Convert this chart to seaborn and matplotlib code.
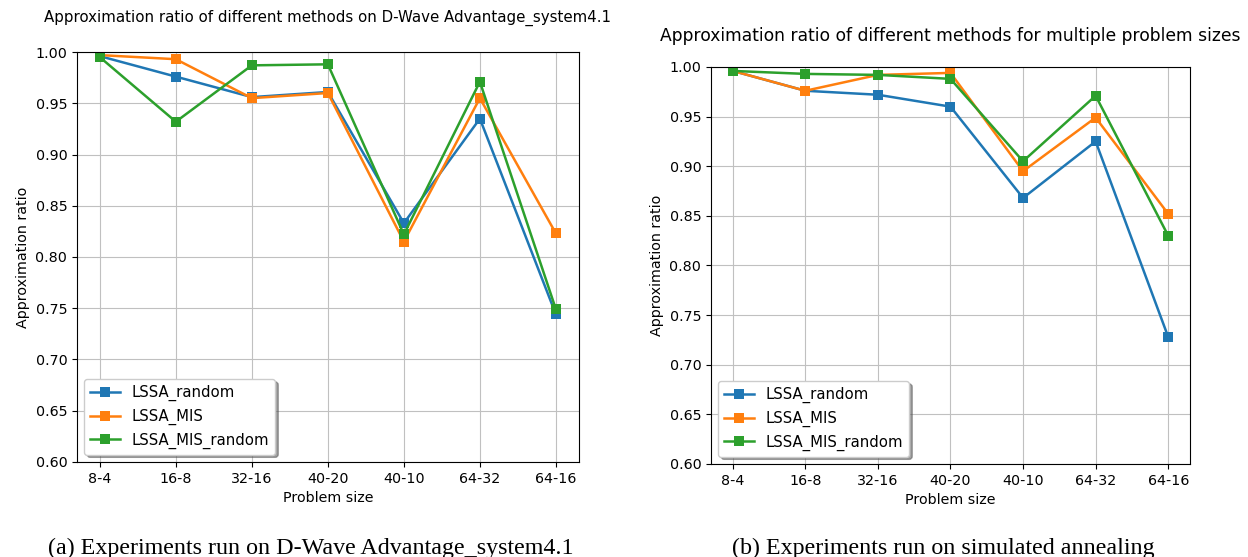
import pandas as pd
import seaborn as sns
from matplotlib import pyplot as plt

sizes = ['8-4', '16-8', '32-16', '40-20', '40-10', '64-32', '64-16']
methods = ['LSSA_random', 'LSSA_MIS', 'LSSA_MIS_random']

# D-Wave Advantage_system4.1
dwave_random = [0.996, 0.976, 0.956, 0.961, 0.833, 0.935, 0.744]
dwave_mis = [0.997, 0.993, 0.955, 0.960, 0.815, 0.955, 0.823]
dwave_mis_random = [0.995, 0.932, 0.987, 0.988, 0.822, 0.971, 0.749]

# simulated annealing
sa_random = [0.996, 0.976, 0.972, 0.960, 0.868, 0.925, 0.728]
sa_mis = [0.996, 0.976, 0.992, 0.994, 0.895, 0.949, 0.852]
sa_mis_random = [0.996, 0.993, 0.992, 0.988, 0.905, 0.971, 0.830]

palette = {'LSSA_random': '#1f77b4', 'LSSA_MIS': '#ff7f0e', 'LSSA_MIS_random': '#2ca02c'}


def make_df(series):
    rows = []
    for m, vals in zip(methods, series):
        for s, v in zip(sizes, vals):
            rows.append({'Problem size': s, 'ratio': v, 'method': m})
    return pd.DataFrame(rows)


def draw(ax, df, title, title_size, title_pad):
    sns.lineplot(data=df, x='Problem size', y='ratio', hue='method', hue_order=methods,
                 palette=palette, marker='s', markersize=7.5, markeredgewidth=0,
                 linewidth=1.8, ax=ax, sort=False)
    ax.set_ylim(0.6, 1.0)
    ax.set_yticks([0.6, 0.65, 0.7, 0.75, 0.8, 0.85, 0.9, 0.95, 1.0])
    ax.set_yticklabels(['%.2f' % t for t in ax.get_yticks()])
    ax.set_xlabel('Problem size', fontsize=10.3)
    ax.set_ylabel('Approximation ratio', fontsize=10.3)
    ax.tick_params(labelsize=10.3)
    ax.grid(True, color='#c0c0c0', linewidth=0.8)
    ax.set_title(title, fontsize=title_size, pad=title_pad)
    ax.legend(loc='lower left', shadow=True, fontsize=10.7, framealpha=1, edgecolor='#cccccc')
    for sp in ax.spines.values():
        sp.set_color('black')


fig = plt.figure(figsize=(12.48, 5.57), dpi=100)
ax1 = fig.add_axes([0.0617, 0.1706, 0.402, 0.736])
ax2 = fig.add_axes([0.5697, 0.167, 0.3838, 0.7128])

draw(ax1, make_df([dwave_random, dwave_mis, dwave_mis_random]),
     'Approximation ratio of different methods on D-Wave Advantage_system4.1', 10.8, 22)
draw(ax2, make_df([sa_random, sa_mis, sa_mis_random]),
     'Approximation ratio of different methods for multiple problem sizes', 12.3, 19)

fig.text(0.249, 0.006, '(a) Experiments run on D-Wave Advantage_system4.1',
         ha='center', fontsize=17.3, family='Liberation Serif')
fig.text(0.756, 0.006, '(b) Experiments run on simulated annealing',
         ha='center', fontsize=17.3, family='Liberation Serif')

plt.savefig('out.png')
